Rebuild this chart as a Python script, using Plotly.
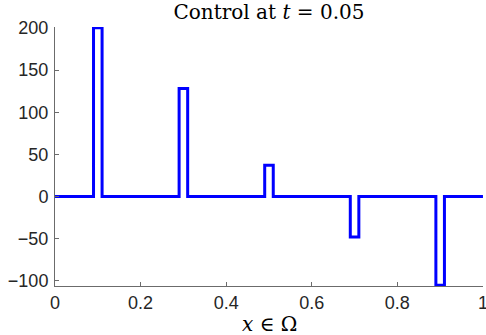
import plotly.graph_objects as go

# pulse control at t = 0.05
pulse_start = [0.09, 0.29, 0.49, 0.69, 0.89]
pulse_end = [0.11, 0.31, 0.51, 0.71, 0.91]
amplitude = [200, 128, 37, -48, -105]

x_ticks = [0, 0.2, 0.4, 0.6, 0.8, 1]
x_labels = ['0', '0.2', '0.4', '0.6', '0.8', '1']
y_ticks = [-100, -50, 0, 50, 100, 150, 200]


def step_profile(starts, ends, amps):
    xs, ys = [0.0], [0.0]
    for s, e, a in zip(starts, ends, amps):
        xs += [s, s, e, e]
        ys += [0, a, a, 0]
    xs.append(1.0)
    ys.append(0.0)
    return xs, ys


xs, ys = step_profile(pulse_start, pulse_end, amplitude)

fig = go.Figure(go.Scatter(x=xs, y=ys, mode='lines',
                           line=dict(color='#0000ff', width=3)))

axis_style = dict(showgrid=False, zeroline=False, showline=True,
                  linecolor='#6b6b6b', linewidth=1, ticks='inside',
                  ticklen=4, tickcolor='#6b6b6b', automargin=False,
                  tickfont=dict(family='Liberation Sans, Arial', size=18, color='#262626'))

fig.update_xaxes(range=[0, 1.0001], tickvals=x_ticks, ticktext=x_labels,
                 ticklabeloverflow='allow', **axis_style)
fig.update_yaxes(range=[-106, 201], tickvals=y_ticks, ticklabelstandoff=2, **axis_style)

fig.update_layout(
    width=486, height=335,
    margin=dict(l=55, r=3, t=27, b=49),
    plot_bgcolor='white', paper_bgcolor='white',
    showlegend=False,
    title=dict(text='Control at <i>t</i> = 0.05', x=0.5535, xanchor='center',
               y=0.963, yanchor='middle', yref='container',
               font=dict(family='DejaVu Serif', size=20, color='black')),
    annotations=[dict(text='<i>x</i> ∈ Ω', xref='paper', yref='paper',
                      x=0.5, y=-0.148, xanchor='center', yanchor='middle',
                      showarrow=False,
                      font=dict(family='DejaVu Serif', size=20, color='black'))],
)

# page body has an 8px default margin; drop it so the figure sits at the corner
fig.write_html("out.html", config={'displayModeBar': False},
               post_script="document.body.style.margin='0';")
